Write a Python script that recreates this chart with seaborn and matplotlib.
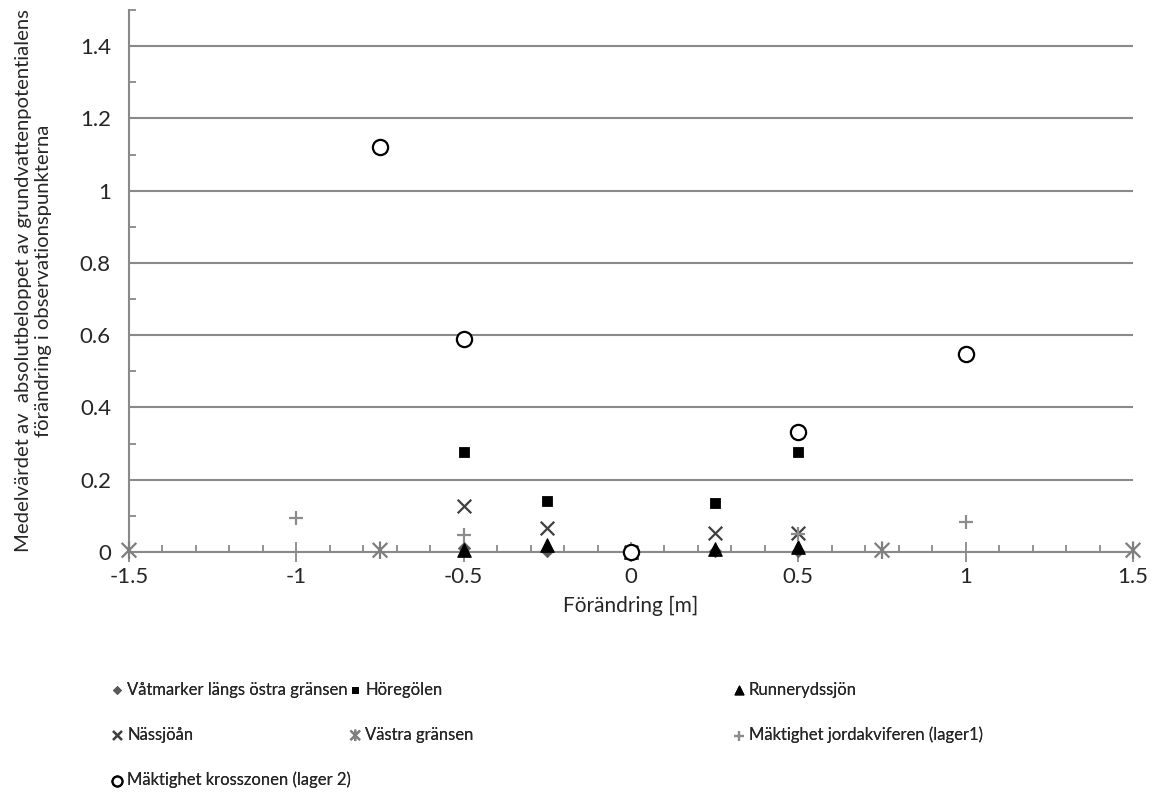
import matplotlib
matplotlib.use("Agg")
import matplotlib.pyplot as plt
from matplotlib.path import Path
from matplotlib.ticker import MultipleLocator, FixedLocator
import seaborn as sns
import pandas as pd

sns.set_style("white")
plt.rcParams["font.family"] = ["Lato", "DejaVu Sans"]

# Change in level [m] and mean absolute head change per boundary/parameter
x_main = [-0.5, -0.25, 0.0, 0.25, 0.5]
vatmarker = [0.01, 0.002, 0.0, 0.002, 0.002]
horegolen = [0.277, 0.142, 0.0, 0.136, 0.277]
runnerydssjon = [0.006, 0.02, 0.0, 0.008, 0.015]
nassjoan = [0.126, 0.066, 0.0, 0.052, 0.052]

x_vastra = [-1.5, -0.75, 0.75, 1.5]
vastra = [0.005, 0.005, 0.005, 0.005]

x_lager1 = [-1.0, -0.5, 0.0, 0.5, 1.0]
lager1 = [0.094, 0.046, 0.0, 0.05, 0.083]

x_lager2 = [-0.75, -0.5, 0.0, 0.5, 1.0]
lager2 = [1.121, 0.589, 0.0, 0.333, 0.549]

labels = [
    "Våtmarker längs östra gränsen",
    "Höregölen",
    "Runnerydssjön",
    "Nässjöån",
    "Västra gränsen",
    "Mäktighet jordakviferen (lager1)",
    "Mäktighet krosszonen (lager 2)",
]

x_ticks = [-1.5, -1, -0.5, 0, 0.5, 1, 1.5]
x_ticklabels = ["-1.5", "-1", "-0.5", "0", "0.5", "1", "1.5"]
y_ticks = [0, 0.2, 0.4, 0.6, 0.8, 1.0, 1.2, 1.4]
y_ticklabels = ["0", "0.2", "0.4", "0.6", "0.8", "1", "1.2", "1.4"]

# asterisk: an X crossed by a vertical bar
asterisk = Path(
    [(-0.5, -0.5), (0.5, 0.5), (-0.5, 0.5), (0.5, -0.5), (0, -0.6), (0, 0.6)],
    [Path.MOVETO, Path.LINETO, Path.MOVETO, Path.LINETO, Path.MOVETO, Path.LINETO],
)

grey_axis = "#898989"

fig = plt.figure(figsize=(11.59, 7.92), dpi=100)
ax = fig.add_axes([0.1113, 0.303, 0.8663, 0.6844])

series = [
    (x_main, vatmarker, dict(marker="D", s=40, color="#595959", edgecolor="#595959")),
    (x_main, horegolen, dict(marker="s", s=55, color="black", edgecolor="black")),
    (x_main, runnerydssjon, dict(marker="^", s=95, color="black", edgecolor="black")),
    (x_main, nassjoan, dict(marker="x", s=95, color="#404040", linewidth=1.6)),
    (x_vastra, vastra, dict(marker=asterisk, s=160, facecolor="none",
                            edgecolor="#7f7f7f", linewidth=1.6)),
    (x_lager1, lager1, dict(marker="+", s=110, color="#8c8c8c", linewidth=1.6)),
    (x_lager2, lager2, dict(marker="o", s=120, facecolor="white", edgecolor="black", linewidth=1.6)),
]

for (xs, ys, style), lab in zip(series, labels):
    df = pd.DataFrame({"x": xs, "y": ys})
    sns.scatterplot(data=df, x="x", y="y", ax=ax, label=lab, clip_on=False, zorder=3, **style)

handles, labs = ax.get_legend_handles_labels()
ax.get_legend().remove()

ax.set_xlim(-1.5, 1.5)
ax.set_ylim(0, 1.5)
ax.xaxis.set_major_locator(FixedLocator(x_ticks))
ax.set_xticklabels(x_ticklabels)
ax.xaxis.set_minor_locator(MultipleLocator(0.1))
ax.yaxis.set_major_locator(FixedLocator(y_ticks))
ax.set_yticklabels(y_ticklabels)
ax.yaxis.set_minor_locator(MultipleLocator(0.1))

ax.grid(axis="y", which="major", color=grey_axis, linewidth=1.5, zorder=0)
ax.set_axisbelow(True)
for side in ["top", "right"]:
    ax.spines[side].set_visible(False)
for side in ["left", "bottom"]:
    ax.spines[side].set_color(grey_axis)
    ax.spines[side].set_linewidth(1.5)

ax.tick_params(which="both", bottom=True, left=True)
ax.tick_params(axis="x", which="major", direction="inout", length=14, width=1.3,
               color=grey_axis, labelsize=16, pad=4)
ax.tick_params(axis="x", which="minor", direction="in", length=5, width=1.3, color=grey_axis)
ax.tick_params(axis="y", which="major", direction="in", length=5, width=1.3,
               color=grey_axis, labelsize=16, pad=13)
ax.tick_params(axis="y", which="minor", direction="in", length=5, width=1.3, color=grey_axis)

ax.set_xlabel("Förändring [m]", fontsize=15, labelpad=6)
ax.set_ylabel("Medelvärdet av  absolutbeloppet av grundvattenpotentialens\n"
              "förändring i observationspunkterna", fontsize=14.6, labelpad=20,
              linespacing=1.2)

# legend laid out in three columns below the plot
columns = [[0, 3, 6], [1, 4], [2, 5]]
col_x = [0.0895, 0.295, 0.626]
for idx, cx in zip(columns, col_x):
    leg = fig.legend([handles[i] for i in idx], [labs[i] for i in idx],
                     loc="upper left", bbox_to_anchor=(cx, 0.150),
                     bbox_transform=fig.transFigure, frameon=False,
                     fontsize=12, markerscale=0.65, handlelength=0.6,
                     handletextpad=0.3, labelspacing=1.75, borderpad=0)
    fig.add_artist(leg)

fig.savefig("out.png", dpi=100)
